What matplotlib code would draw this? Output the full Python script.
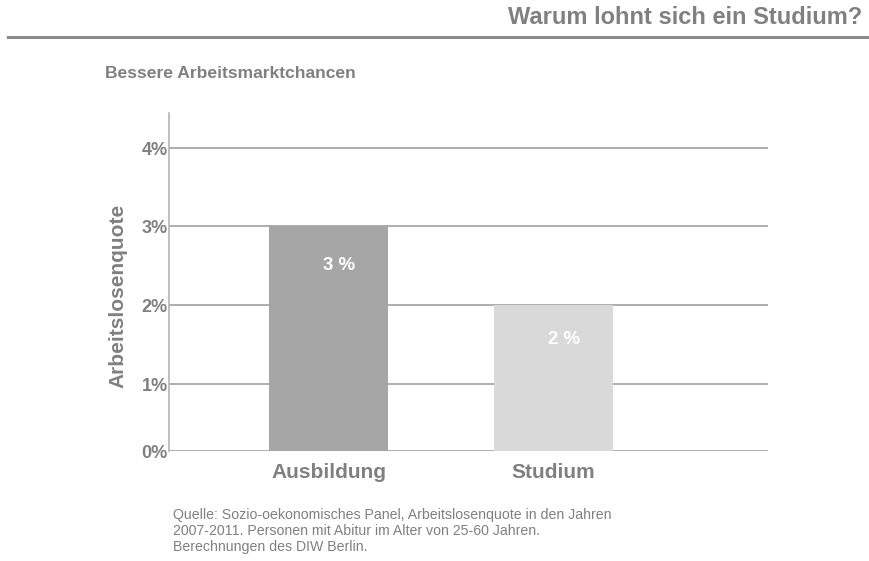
import numpy as np
import matplotlib.pyplot as plt
from matplotlib.transforms import ScaledTranslation

plt.rcParams['font.family'] = ['Liberation Sans', 'DejaVu Sans']

# data
categories = ['Ausbildung', 'Studium']
values = [3, 2]
bar_labels = ['3 %', '2 %']
yticks = [0, 1, 2, 3, 4]
ytick_labels = ['0%', '1%', '2%', '3%', '4%']

grey = '#808080'

fig = plt.figure(figsize=(8.7, 5.61), dpi=100)
ax = fig.add_axes([169/870, 1 - 451/561, 599/870, 338/561])

# the original axis is cut a little above zero; the bottom line carries "0%"
ymin, ymax = 0.15, 4.44
x = np.arange(len(categories))
bars = ax.bar(x, values, width=0.53, color=['#a6a6a6', '#d9d9d9'], zorder=2)

# value labels inside bars
for b, lab, dy in zip(bars, bar_labels, [0.5, 0.43]):
    ax.text(b.get_x() + b.get_width() / 2 + 0.047, b.get_height() - dy, lab,
            ha='center', va='center', color='white', fontsize=13.4, fontweight='bold')

ax.set_xlim(-0.709, 1.953)
ax.set_ylim(ymin, ymax)
ax.set_yticks([max(t, ymin) for t in yticks])
ax.set_yticklabels(ytick_labels)
ax.set_xticks(x)
ax.set_xticklabels(categories)
ax.tick_params(axis='y', length=0, pad=1, labelsize=13, labelcolor=grey)
ax.tick_params(axis='x', length=0, pad=9, labelsize=15, labelcolor=grey)
shift = ScaledTranslation(0, -2.5 / 100, fig.dpi_scale_trans)
for t in ax.get_yticklabels():
    t.set_fontweight('bold')
    t.set_va('center')
    t.set_transform(t.get_transform() + shift)
for t in ax.get_xticklabels():
    t.set_fontweight('bold')

ax.grid(axis='y', color='#a0a0a0', linewidth=1.2, zorder=1)
ax.set_axisbelow(True)
for s in ['top', 'right', 'bottom']:
    ax.spines[s].set_visible(False)
ax.spines['left'].set_color('#b4b4b4')
ax.spines['left'].set_linewidth(1.2)

ax.set_ylabel('Arbeitslosenquote', fontsize=15, fontweight='bold', color=grey)
ax.yaxis.set_label_coords(-0.0701, 0.4586)

# header
fig.text(862/870, 1 - 17/561, 'Warum lohnt sich ein Studium?', ha='right', va='center',
         fontsize=17, fontweight='bold', color=grey)
fig.add_artist(plt.Line2D([8/870, 1], [1 - 36.5/561, 1 - 36.5/561], color='#8a8a8a', linewidth=2.2))
fig.text(105/870, 1 - 73/561, 'Bessere Arbeitsmarktchancen', ha='left', va='center',
         fontsize=12.6, fontweight='bold', color=grey)

# source
fig.text(173/870, 1 - 508.5/561,
         'Quelle: Sozio-oekonomisches Panel, Arbeitslosenquote in den Jahren\n'
         '2007-2011. Personen mit Abitur im Alter von 25-60 Jahren.\n'
         'Berechnungen des DIW Berlin.',
         ha='left', va='top', fontsize=10.2, color=grey, linespacing=1.15)

fig.savefig('out.png', dpi=100)
